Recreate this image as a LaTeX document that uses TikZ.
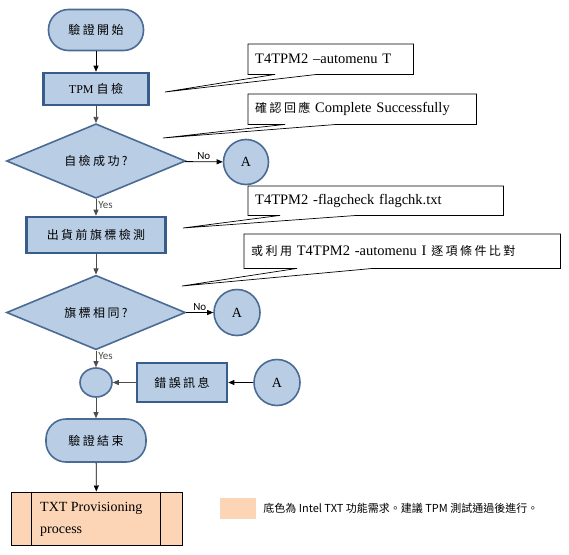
\documentclass[tikz,border=0pt]{standalone}
\usepackage{fontspec}
\setmainfont{Liberation Serif}
\setsansfont{Carlito}
\newfontfamily\cjk[LetterSpace=20]{Noto Sans CJK TC}
\newfontfamily\cjkplain{Noto Sans CJK TC}
\usetikzlibrary{shapes, arrows.meta, positioning, calc}
\definecolor{fillblue}{RGB}{185, 205, 229}
\definecolor{edgeblue}{RGB}{56, 93, 138}
\definecolor{edgeblue2}{RGB}{74, 107, 148}
\definecolor{peach}{RGB}{251, 213, 181}
\newcommand\zhtext[1]{{\fontsize{12}{14}\selectfont\cjk #1}}

\begin{document}
\begin{tikzpicture}[x=1pt, y=-1pt,
  term/.style={draw=edgeblue2, fill=fillblue, line width=1.6pt, rounded corners=20pt, minimum width=95pt, minimum height=41pt, font=\fontsize{12}{14}\selectfont\cjk},
  proc/.style={draw=edgeblue, fill=fillblue, line width=2.6pt, minimum height=32pt, font=\fontsize{12}{14}\selectfont\cjk},
  decide/.style={diamond, draw=edgeblue2, fill=fillblue, line width=1.6pt, minimum width=179pt, minimum height=62pt, inner sep=0pt, font=\fontsize{12}{14}\selectfont\cjk},
  conn/.style={circle, draw=edgeblue2, fill=fillblue, line width=1.6pt, minimum size=45pt, inner sep=0pt, font=\fontsize{14}{16}\selectfont},
  note/.style={anchor=north west, inner xsep=7pt, inner ysep=0pt, align=left, font=\fontsize{14.5}{16}\selectfont},
  callout/.style={line width=0.7pt},
  flow/.style={-{Triangle[length=6pt, width=5pt]}, line width=0.8pt, black!70},
  lbl/.style={font=\sffamily\fontsize{11}{13}\selectfont, inner sep=2pt}
]
  \useasboundingbox (0,0) rectangle (569,554);

  \node[term] (start) at (96,30) {驗證開始};
  \node[proc, minimum width=105pt] (selftest) at (96,89) {\rmfamily TPM \cjk 自檢};
  \node[decide] (selfok) at (96,161) {自檢成功?};
  \node[conn] (a1) at (246,162) {A};
  \node[proc, minimum width=139pt, minimum height=36pt] (flagcheck) at (96,235) {出貨前旗標檢測};
  \node[decide, minimum height=61pt] (flagsame) at (96,312.5) {旗標相同?};
  \node[conn, minimum size=46pt] (a2) at (237,312.5) {A};
  \node[ellipse, draw=edgeblue2, fill=fillblue, line width=1.6pt, minimum width=32pt, minimum height=29pt, inner sep=0pt] (merge) at (96,382.5) {};
  \node[proc, minimum width=90pt, minimum height=39pt] (errmsg) at (182,382.5) {錯誤訊息};
  \node[conn, minimum size=46pt] (a3) at (277,382.5) {A};
  \node[term, minimum width=100pt, minimum height=43pt] (finish) at (96,440.5) {驗證結束};
  \node[draw, fill=peach, line width=1pt, minimum width=171pt, minimum height=53pt] (txt) at (96.5,518.5) {};
  \draw[line width=1pt] ($(txt.north west)+(21,0)$) -- ($(txt.south west)+(21,0)$);
  \draw[line width=1pt] ($(txt.north east)+(-22,0)$) -- ($(txt.south east)+(-22,0)$);
  \node[anchor=west, align=left, inner sep=0pt, font=\fontsize{14}{22}\selectfont] (txtlabel) at (40,519) {TXT Provisioning\\process};

  \node[fill=peach, minimum width=36pt, minimum height=21pt, inner sep=0pt] (key) at (238,508.5) {};
  \node[right=7pt of key, inner sep=0pt, font=\fontsize{11}{13}\selectfont\cjkplain] (keytext) {底色為 Intel TXT 功能需求。建議 TPM 測試通過後進行。};

  \draw[flow, black] (start) -- (selftest);
  \draw[flow] (selftest) -- (selfok);
  \draw[flow, black] (selfok) -- node[lbl, above] {No} (a1);
  \draw[flow] (selfok) -- node[lbl, right, pos=0.35] {Yes} (flagcheck);
  \draw[flow] (flagcheck) -- (flagsame);
  \draw[flow, black] (flagsame) -- node[lbl, above] {No} (a2);
  \draw[flow] (flagsame) -- node[lbl, right, pos=0.35] {Yes} (merge);
  \draw[flow] (errmsg) -- (merge);
  \draw[flow, black] (a3) -- (errmsg);
  \draw[flow] (merge) -- (finish);
  \draw[flow, black] (finish) -- (txt);

  \node[note, text width=151pt, minimum height=30pt] (cmd1) at (248,44) {T4TPM2 –automenu T};
  \node[note, text width=214pt, minimum height=30pt] (cmd2) at (248,94) {\zhtext{確認回應}\ Complete Successfully};
  \node[note, text width=241pt, minimum height=29pt] (cmd3) at (248,186) {T4TPM2 -flagcheck flagchk.txt};
  \node[note, text width=302pt, minimum height=34pt] (cmd4) at (244,234) {\zhtext{或利用}\ T4TPM2 -automenu I \zhtext{逐項條件比對}};
  \coordinate (tip1) at (165,92);
  \coordinate (tip2) at (163,138);
  \coordinate (tip3) at (183,228);
  \coordinate (tip4) at (182,286);
  \draw[callout] (cmd1.south west) -- ($(cmd1.south west)+(27,0)$) -- (tip1) -- ($(cmd1.south west)+(69,0)$) -- (cmd1.south east) -- (cmd1.north east) -- (cmd1.north west) -- cycle;
  \draw[callout] (cmd2.south west) -- ($(cmd2.south west)+(37,0)$) -- (tip2) -- ($(cmd2.south west)+(89,0)$) -- (cmd2.south east) -- (cmd2.north east) -- (cmd2.north west) -- cycle;
  \draw[callout] (cmd3.south west) -- ($(cmd3.south west)+(32,0)$) -- (tip3) -- ($(cmd3.south west)+(109,0)$) -- (cmd3.south east) -- (cmd3.north east) -- (cmd3.north west) -- cycle;
  \draw[callout] (cmd4.south west) -- ($(cmd4.south west)+(53,0)$) -- (tip4) -- ($(cmd4.south west)+(129,0)$) -- (cmd4.south east) -- (cmd4.north east) -- (cmd4.north west) -- cycle;
\end{tikzpicture}
\end{document}
